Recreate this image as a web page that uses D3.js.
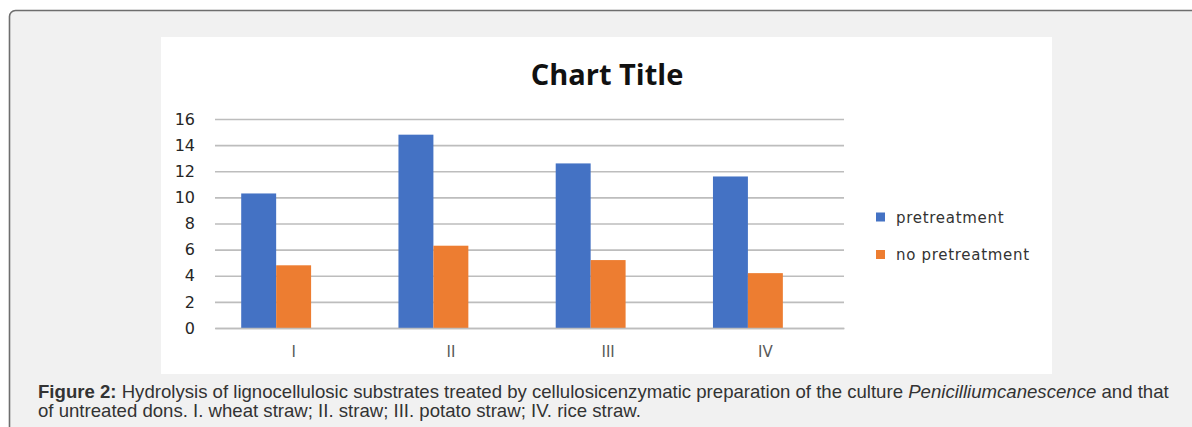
<!DOCTYPE html>
<html>
<head>
<meta charset="utf-8">
<script src="https://cdn.jsdelivr.net/npm/d3@7"></script>
<style>
  html, body { margin: 0; padding: 0; background: #ffffff; }
  svg { display: block; }
</style>
</head>
<body>
<svg id="chart" width="1192" height="427"></svg>
<script>
// ---- data ----
const categories = ["I", "II", "III", "IV"];
const seriesNames = ["pretreatment", "no pretreatment"];
const pretreatment = [10.3, 14.8, 12.6, 11.6];
const noPretreatment = [4.8, 6.3, 5.2, 4.2];
const yTicks = [0, 2, 4, 6, 8, 10, 12, 14, 16];
const colors = ["#4472C4", "#ED7D31"];
const chartTitle = "Chart Title";

const svg = d3.select("#chart");

// outer panel
svg.append("rect")
  .attr("x", 9.5).attr("y", 10.5)
  .attr("width", 1220).attr("height", 500)
  .attr("rx", 6).attr("ry", 6)
  .attr("fill", "#f1f1f1")
  .attr("stroke", "#6e6e6e").attr("stroke-width", 1.6);

// chart area (white)
svg.append("rect")
  .attr("x", 161).attr("y", 37)
  .attr("width", 891).attr("height", 337)
  .attr("fill", "#ffffff");

const plot = { left: 215, right: 844, top: 119, bottom: 328 };

const y = d3.scaleLinear().domain([0, 16]).range([plot.bottom, plot.top]);
const x0 = d3.scaleBand().domain(categories)
  .range([plot.left, plot.right])
  .paddingInner(1.5 / 4.5).paddingOuter(0.75 / 4.5);
// three slots per group (Excel layout with an empty third slot)
const x1 = d3.scaleBand().domain([0, 1, 2]).range([0, x0.bandwidth()]);

// gridlines
const grid = svg.append("g")
  .attr("transform", `translate(${plot.left},0)`)
  .call(d3.axisLeft(y).tickValues(yTicks).tickSize(-(plot.right - plot.left)).tickFormat(""));
grid.select(".domain").remove();
grid.selectAll("line").attr("stroke", "#bdbdbd").attr("stroke-width", 1.6);

// y tick labels
const yAxis = svg.append("g")
  .attr("transform", `translate(${plot.left},0)`)
  .call(d3.axisLeft(y).tickValues(yTicks).tickSize(0).tickPadding(20));
yAxis.select(".domain").remove();
yAxis.selectAll("text")
  .attr("font-family", "DejaVu Sans, Verdana, sans-serif")
  .attr("font-size", 16)
  .attr("fill", "#262626");

// bars
const seriesData = [pretreatment, noPretreatment];
seriesData.forEach((vals, si) => {
  svg.append("g").selectAll("rect")
    .data(vals)
    .join("rect")
    .attr("x", (d, i) => x0(categories[i]) + x1(si))
    .attr("y", d => y(d))
    .attr("width", x1.bandwidth())
    .attr("height", d => y(0) - y(d))
    .attr("fill", colors[si]);
});

// baseline axis
const xAxis = svg.append("g")
  .attr("transform", `translate(0,${plot.bottom})`)
  .call(d3.axisBottom(x0).tickSize(0).tickPadding(18));
xAxis.select(".domain").attr("stroke", "#bdbdbd").attr("stroke-width", 1.6);
xAxis.selectAll("text")
  .attr("font-family", "DejaVu Sans, Verdana, sans-serif")
  .attr("font-size", 15)
  .attr("fill", "#595959");

// title
svg.append("text")
  .attr("x", 607).attr("y", 85)
  .attr("text-anchor", "middle")
  .attr("font-family", "Open Sans, Noto Sans, sans-serif")
  .attr("font-weight", "bold")
  .attr("font-size", 29)
  .attr("fill", "#111")
  .text(chartTitle);

// legend
const legend = svg.append("g");
seriesNames.forEach((name, i) => {
  const ly = 217 + i * 37.5;
  legend.append("rect")
    .attr("x", 876).attr("y", ly - 4.5)
    .attr("width", 9).attr("height", 9)
    .attr("fill", colors[i]);
  legend.append("text")
    .attr("x", 896).attr("y", ly + 5.5)
    .attr("font-family", "DejaVu Sans, Verdana, sans-serif")
    .attr("font-size", 15)
    .attr("letter-spacing", 0.7)
    .attr("fill", "#333")
    .text(name);
});

// caption
const cap = svg.append("g")
  .attr("font-family", "Liberation Sans, Arial, sans-serif")
  .attr("font-size", 18.6)
  .attr("fill", "#333");
const l1 = cap.append("text").attr("x", 38).attr("y", 398);
l1.append("tspan").attr("font-weight", "bold").text("Figure 2:");
l1.append("tspan").text(" Hydrolysis of lignocellulosic substrates treated by cellulosicenzymatic preparation of the culture ");
l1.append("tspan").attr("font-style", "italic").text("Penicilliumcanescence");
l1.append("tspan").text(" and that");
cap.append("text").attr("x", 38).attr("y", 417)
  .text("of untreated dons. I. wheat straw; II. straw; III. potato straw; IV. rice straw.");
</script>
</body>
</html>
